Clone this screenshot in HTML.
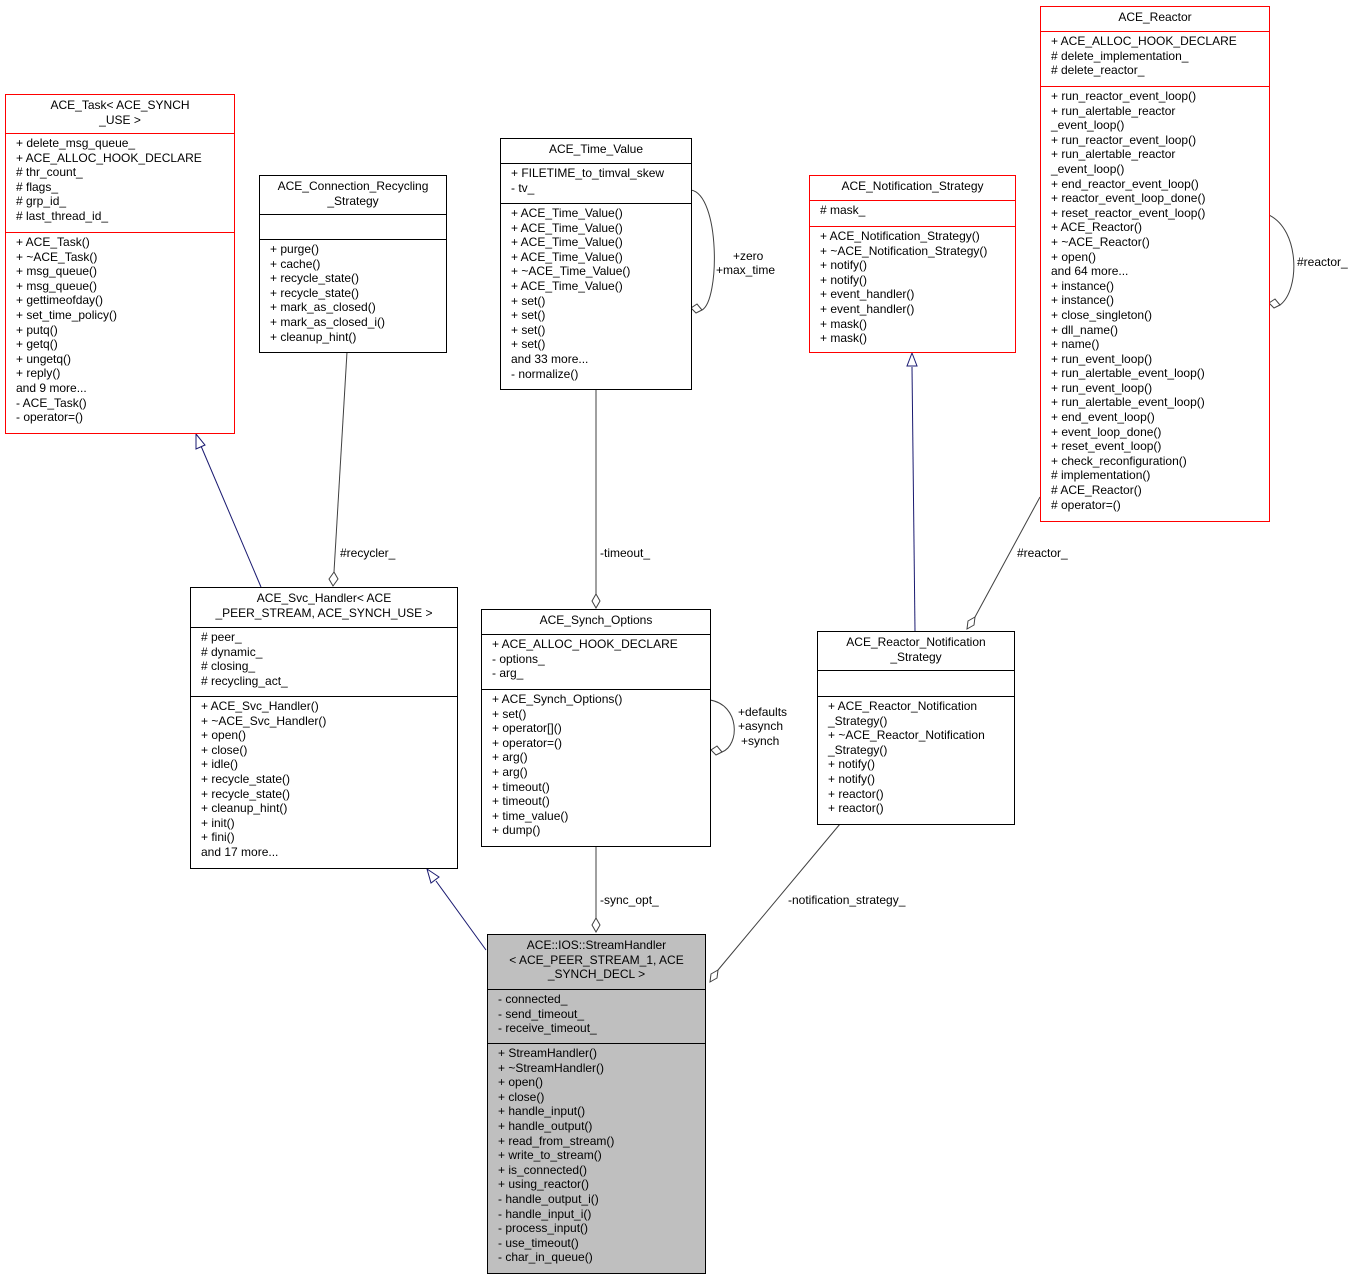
<!DOCTYPE html>
<html><head><meta charset="utf-8"><style>
body{margin:0;width:1357px;height:1280px;background:#fff;position:relative;overflow:hidden;font-family:"Liberation Sans",sans-serif;font-size:12px;color:#000}
.b{position:absolute;border:1px solid #000;background:#fff;box-sizing:border-box}
.r{border-color:#f00}
.s{border-bottom:1px solid #000;box-sizing:border-box;padding:2px 0 0 10px;line-height:14.6px;white-space:pre}
.r .s{border-bottom-color:#f00}
.s:last-child{border-bottom:none}
.t{text-align:center;padding:3px 4px 0 4px}
.g{background:#bfbfbf}
svg{position:absolute;left:0;top:0}
.l{position:absolute;font-size:12px;white-space:pre;line-height:14px}
</style></head><body>
<svg width="1357" height="1280">
<g fill="none" stroke="#404040" stroke-width="1">
<path d="M347,352 L334,572"/><path d="M334,572 l4,7 -5,7 -4,-7z" fill="#fff"/>
<path d="M596,389 L596,594"/><path d="M596,594 l4,7 -4,7 -4,-7z" fill="#fff"/>
<path d="M691,190 C720,195 720,300 702,310"/><path d="M702,310 l-6,3 -5,-5 6,-4z" fill="#fff"/>
<path d="M1040,497 L975,617"/><path d="M975,617 l-1,8 -7,4 1,-8z" fill="#fff"/>
<path d="M1269,215 C1300,230 1300,290 1280,305"/><path d="M1280,305 l-6,3 -5,-5 6,-4z" fill="#fff"/>
<path d="M710,700 C740,705 740,745 722,752"/><path d="M722,752 l-6,3 -5,-5 6,-4z" fill="#fff"/>
<path d="M596,846 L596,918"/><path d="M596,918 l4,7 -4,7 -4,-7z" fill="#fff"/>
<path d="M840,824 L718,970"/><path d="M718,970 l-1,8 -7,4 1,-8z" fill="#fff"/>
</g>
<g fill="none" stroke="#191970" stroke-width="1">
<path d="M261,587 L201,446"/><path d="M196,434 l9,11 -9,4z" fill="#fff"/>
<path d="M915,631 L912,367"/><path d="M912,353 l5,13 -10,0z" fill="#fff"/>
<path d="M486,950 L436,881"/><path d="M427,869 l12,8 -8,6z" fill="#fff"/>
</g>
</svg>
<div class="l" style="left:340px;top:546px">#recycler_</div>
<div class="l" style="left:600px;top:546px">-timeout_</div>
<div class="l" style="left:733px;top:249px">+zero</div>
<div class="l" style="left:716px;top:263px">+max_time</div>
<div class="l" style="left:1017px;top:546px">#reactor_</div>
<div class="l" style="left:1297px;top:255px">#reactor_</div>
<div class="l" style="left:738px;top:705px">+defaults</div>
<div class="l" style="left:738px;top:719px">+asynch</div>
<div class="l" style="left:741px;top:734px">+synch</div>
<div class="l" style="left:600px;top:893px">-sync_opt_</div>
<div class="l" style="left:788px;top:893px">-notification_strategy_</div>

<div class="b r" style="left:5px;top:94px;width:230px;height:340px">
<div class="s t" style="height:39px">ACE_Task&lt; ACE_SYNCH
_USE &gt;</div>
<div class="s" style="height:99px">+ delete_msg_queue_
+ ACE_ALLOC_HOOK_DECLARE
# thr_count_
# flags_
# grp_id_
# last_thread_id_</div>
<div class="s">+ ACE_Task()
+ ~ACE_Task()
+ msg_queue()
+ msg_queue()
+ gettimeofday()
+ set_time_policy()
+ putq()
+ getq()
+ ungetq()
+ reply()
and 9 more...
- ACE_Task()
- operator=()</div></div>

<div class="b" style="left:259px;top:175px;width:188px;height:178px">
<div class="s t" style="height:39px">ACE_Connection_Recycling
_Strategy</div>
<div class="s" style="height:25px"></div>
<div class="s">+ purge()
+ cache()
+ recycle_state()
+ recycle_state()
+ mark_as_closed()
+ mark_as_closed_i()
+ cleanup_hint()</div></div>

<div class="b" style="left:500px;top:138px;width:192px;height:252px">
<div class="s t" style="height:25px">ACE_Time_Value</div>
<div class="s" style="height:40px">+ FILETIME_to_timval_skew
- tv_</div>
<div class="s">+ ACE_Time_Value()
+ ACE_Time_Value()
+ ACE_Time_Value()
+ ACE_Time_Value()
+ ~ACE_Time_Value()
+ ACE_Time_Value()
+ set()
+ set()
+ set()
+ set()
and 33 more...
- normalize()</div></div>

<div class="b r" style="left:809px;top:175px;width:207px;height:178px">
<div class="s t" style="height:25px">ACE_Notification_Strategy</div>
<div class="s" style="height:26px"># mask_</div>
<div class="s">+ ACE_Notification_Strategy()
+ ~ACE_Notification_Strategy()
+ notify()
+ notify()
+ event_handler()
+ event_handler()
+ mask()
+ mask()</div></div>

<div class="b r" style="left:1040px;top:6px;width:230px;height:516px">
<div class="s t" style="height:25px">ACE_Reactor</div>
<div class="s" style="height:55px">+ ACE_ALLOC_HOOK_DECLARE
# delete_implementation_
# delete_reactor_</div>
<div class="s">+ run_reactor_event_loop()
+ run_alertable_reactor
_event_loop()
+ run_reactor_event_loop()
+ run_alertable_reactor
_event_loop()
+ end_reactor_event_loop()
+ reactor_event_loop_done()
+ reset_reactor_event_loop()
+ ACE_Reactor()
+ ~ACE_Reactor()
+ open()
and 64 more...
+ instance()
+ instance()
+ close_singleton()
+ dll_name()
+ name()
+ run_event_loop()
+ run_alertable_event_loop()
+ run_event_loop()
+ run_alertable_event_loop()
+ end_event_loop()
+ event_loop_done()
+ reset_event_loop()
+ check_reconfiguration()
# implementation()
# ACE_Reactor()
# operator=()</div></div>

<div class="b" style="left:190px;top:587px;width:268px;height:282px">
<div class="s t" style="height:40px">ACE_Svc_Handler&lt; ACE
_PEER_STREAM, ACE_SYNCH_USE &gt;</div>
<div class="s" style="height:69px"># peer_
# dynamic_
# closing_
# recycling_act_</div>
<div class="s">+ ACE_Svc_Handler()
+ ~ACE_Svc_Handler()
+ open()
+ close()
+ idle()
+ recycle_state()
+ recycle_state()
+ cleanup_hint()
+ init()
+ fini()
and 17 more...</div></div>

<div class="b" style="left:481px;top:609px;width:230px;height:238px">
<div class="s t" style="height:25px">ACE_Synch_Options</div>
<div class="s" style="height:55px">+ ACE_ALLOC_HOOK_DECLARE
- options_
- arg_</div>
<div class="s">+ ACE_Synch_Options()
+ set()
+ operator[]()
+ operator=()
+ arg()
+ arg()
+ timeout()
+ timeout()
+ time_value()
+ dump()</div></div>

<div class="b" style="left:817px;top:631px;width:198px;height:194px">
<div class="s t" style="height:39px">ACE_Reactor_Notification
_Strategy</div>
<div class="s" style="height:26px"></div>
<div class="s">+ ACE_Reactor_Notification
_Strategy()
+ ~ACE_Reactor_Notification
_Strategy()
+ notify()
+ notify()
+ reactor()
+ reactor()</div></div>

<div class="b g" style="left:487px;top:934px;width:219px;height:340px">
<div class="s t" style="height:55px">ACE::IOS::StreamHandler
&lt; ACE_PEER_STREAM_1, ACE
_SYNCH_DECL &gt;</div>
<div class="s" style="height:54px">- connected_
- send_timeout_
- receive_timeout_</div>
<div class="s">+ StreamHandler()
+ ~StreamHandler()
+ open()
+ close()
+ handle_input()
+ handle_output()
+ read_from_stream()
+ write_to_stream()
+ is_connected()
+ using_reactor()
- handle_output_i()
- handle_input_i()
- process_input()
- use_timeout()
- char_in_queue()</div></div>
</body></html>
